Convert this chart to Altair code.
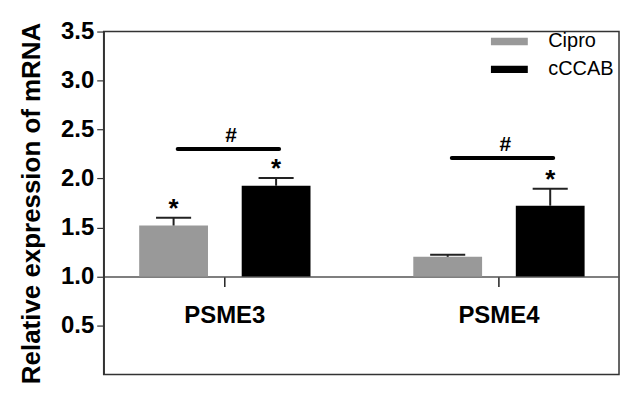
import json
import altair as alt
import pandas as pd

# ---- data ----
genes = ["PSME3", "PSME4"]
groups = ["Cipro", "cCCAB"]
cipro_mean = [1.52, 1.20]
cipro_sem = [0.08, 0.022]
ccab_mean = [1.926, 1.722]
ccab_sem = [0.078, 0.173]
cipro_star = [True, False]
ccab_star = [True, True]
hash_level = [2.30, 2.21]
y_ticks = [0.5, 1.0, 1.5, 2.0, 2.5, 3.0, 3.5]
colors = ["#999999", "#000000"]

# ---- layout constants (style) ----
FONT = "Liberation Sans"
BASE = 1.0
OFFSET = {"Cipro": -0.185, "cCCAB": 0.189}
HALF_W = 0.1255
CAP = 0.064

rows = []
for i, g in enumerate(genes):
    for grp, means, sems, stars in [
        ("Cipro", cipro_mean, cipro_sem, cipro_star),
        ("cCCAB", ccab_mean, ccab_sem, ccab_star),
    ]:
        c = i + OFFSET[grp]
        rows.append(dict(gene=g, group=grp, mean=means[i], top=means[i] + sems[i],
                         base=BASE, x=c, x0=c - HALF_W, x1=c + HALF_W,
                         c0=c - CAP, c1=c + CAP, star="*" if stars[i] else ""))
df = pd.DataFrame(rows)
sig = pd.DataFrame(dict(gene=genes, y=hash_level,
                        x0=[i - 0.17 for i in range(len(genes))],
                        x1=[i + 0.20 for i in range(len(genes))],
                        xt=[i + 0.025 for i in range(len(genes))]))

xscale = alt.Scale(domain=[-0.44, 1.44], nice=False, zero=False)
yscale = alt.Scale(domain=[0, 3.5], nice=False, zero=False)

xaxis = alt.Axis(values=[0, 1], labelExpr=f"{json.dumps(genes)}[datum.value]",
                 title=None, grid=False, offset=-98.3, domainColor="#555",
                 domainWidth=1.5, tickColor="#222", tickWidth=1.5, tickSize=10,
                 labelPadding=17, labelFont=FONT, labelFontSize=24,
                 labelFontWeight="bold", labelColor="black", labelFlush=False)
yaxis = alt.Axis(values=y_ticks, format=".1f", title="Relative expression of mRNA",
                 grid=False, domainColor="#333", domainWidth=1.5, tickColor="#333",
                 tickWidth=1.2, tickSize=7, labelPadding=3, labelFont=FONT,
                 labelFontSize=24, labelFontWeight="bold", labelColor="black",
                 titleFont=FONT, titleFontSize=26, titleFontWeight="bold",
                 titleColor="black", titlePadding=16)

base = alt.Chart(df)

bars = base.mark_bar().encode(
    x=alt.X("x0:Q", scale=xscale, axis=xaxis),
    x2="x1:Q",
    y=alt.Y("mean:Q", scale=yscale, axis=yaxis),
    y2="base:Q",
    color=alt.Color("group:N", scale=alt.Scale(domain=groups, range=colors),
                    legend=alt.Legend(title=None, orient="none", legendX=397,
                                      legendY=0, symbolType="M-2,-0.4H2V0.4H-2Z",
                                      symbolSize=342, symbolStrokeWidth=0,
                                      labelFont=FONT, labelFontSize=20,
                                      labelColor="black", labelOffset=29,
                                      rowPadding=8, padding=0)),
)

err = base.mark_rule(color="#222", strokeWidth=2).encode(
    x=alt.X("x:Q", scale=xscale),
    y=alt.Y("mean:Q", scale=yscale),
    y2="top:Q",
)
cap = base.mark_rule(color="#222", strokeWidth=2).encode(
    x=alt.X("c0:Q", scale=xscale),
    x2="c1:Q",
    y=alt.Y("top:Q", scale=yscale),
)
stars = base.mark_text(font=FONT, fontSize=26, fontWeight="bold", color="black",
                       baseline="alphabetic", dy=-1).encode(
    x=alt.X("x:Q", scale=xscale),
    y=alt.Y("top:Q", scale=yscale),
    text="star:N",
)

sig_base = alt.Chart(sig)
sig_line = sig_base.mark_rule(color="black", strokeWidth=4, strokeCap="round").encode(
    x=alt.X("x0:Q", scale=xscale),
    x2="x1:Q",
    y=alt.Y("y:Q", scale=yscale),
)
sig_text = sig_base.mark_text(font=FONT, fontSize=21, fontWeight="bold", color="black",
                              baseline="middle", dy=-13).encode(
    x=alt.X("xt:Q", scale=xscale),
    y=alt.Y("y:Q", scale=yscale),
    text=alt.value("#"),
)

chart = alt.layer(bars, err, cap, stars, sig_line, sig_text).properties(
    width=517, height=344,
    autosize=alt.AutoSizeParams(type="none"),
    padding={"left": 96, "top": 23, "right": 2, "bottom": 11},
).configure_view(stroke="#333", strokeWidth=1.5)

chart.save("out.html", embed_options={"renderer": "svg", "actions": False})
